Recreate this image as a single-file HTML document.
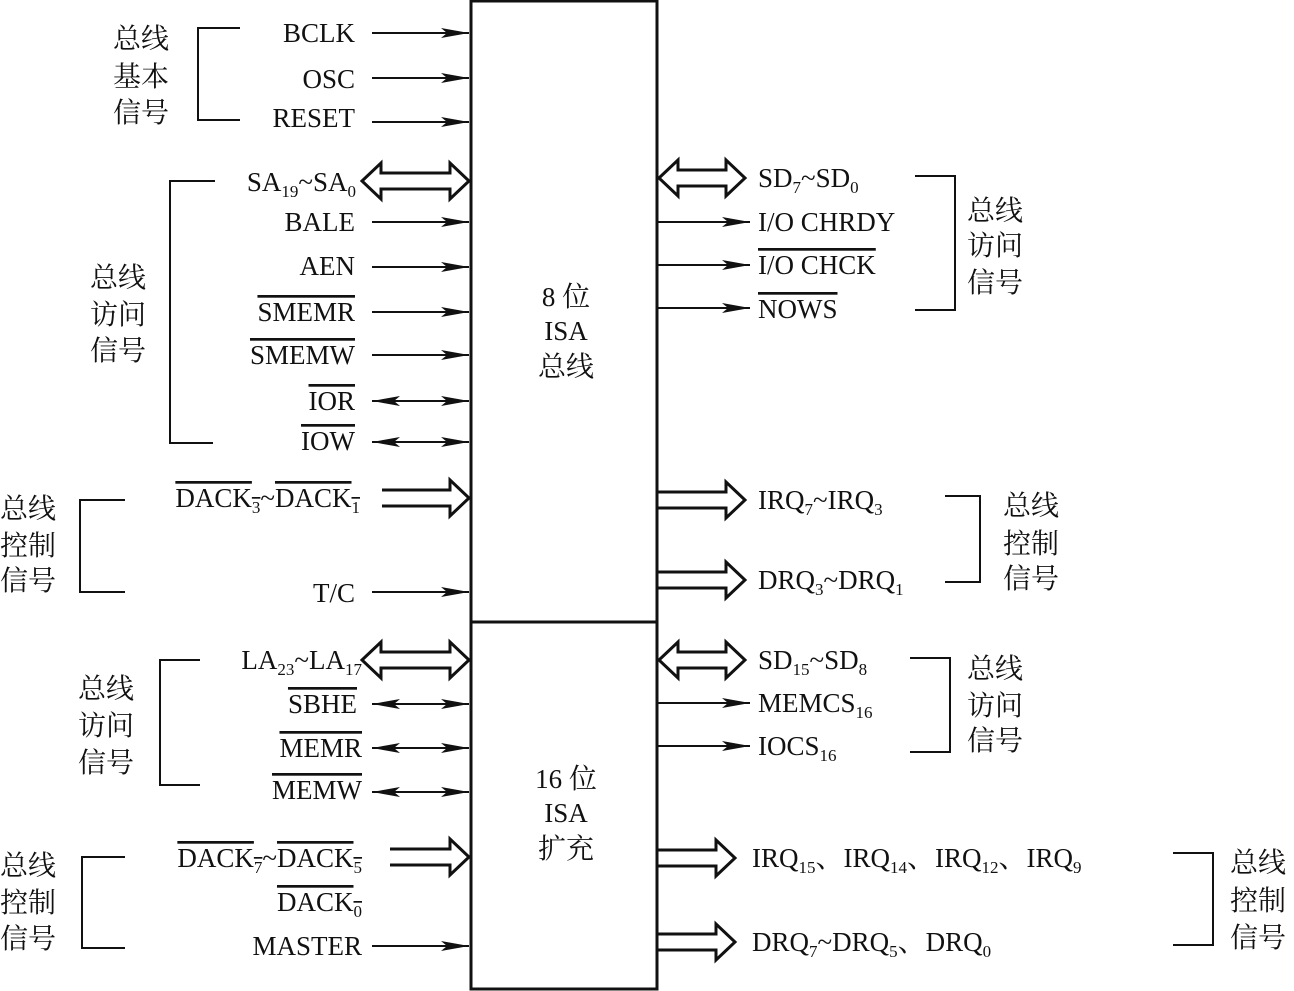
<!DOCTYPE html>
<html><head><meta charset="utf-8"><style>
html,body{margin:0;padding:0;background:#fff;}
svg{display:block;}
text{font-family:"Liberation Serif","Noto Serif CJK SC",serif;font-size:27px;fill:#111;}
.c{font-family:"Liberation Serif","Noto Serif CJK SC","Noto Sans CJK SC",serif;font-size:28px;}
.s{font-size:17px;}
.o{text-decoration:overline;}
</style></head><body>
<svg width="1294" height="991" viewBox="0 0 1294 991" xmlns="http://www.w3.org/2000/svg">
<defs>
<marker id="ah" markerWidth="28" markerHeight="10" refX="28" refY="5" orient="auto" markerUnits="userSpaceOnUse"><path d="M0,0 L28,5 L0,10 L6,5 Z" fill="#111"/></marker>
<marker id="ahs" markerWidth="28" markerHeight="10" refX="0" refY="5" orient="auto" markerUnits="userSpaceOnUse"><path d="M28,0 L0,5 L28,10 L22,5 Z" fill="#111"/></marker>
</defs>
<g fill="none" stroke="#111">
<rect x="471" y="1" width="186" height="988" stroke-width="3"/>
<line x1="471" y1="622" x2="657" y2="622" stroke-width="3"/>
</g>
<g stroke="#111" stroke-width="2" fill="none">
<!-- thin arrows left -->
<line x1="372" y1="33" x2="469" y2="33" marker-end="url(#ah)"/>
<line x1="372" y1="78" x2="469" y2="78" marker-end="url(#ah)"/>
<line x1="372" y1="122" x2="469" y2="122" marker-end="url(#ah)"/>
<line x1="372" y1="222" x2="469" y2="222" marker-end="url(#ah)"/>
<line x1="372" y1="267" x2="469" y2="267" marker-end="url(#ah)"/>
<line x1="372" y1="312" x2="469" y2="312" marker-end="url(#ah)"/>
<line x1="372" y1="355" x2="469" y2="355" marker-end="url(#ah)"/>
<line x1="372" y1="401" x2="469" y2="401" marker-end="url(#ah)" marker-start="url(#ahs)"/>
<line x1="372" y1="442" x2="469" y2="442" marker-end="url(#ah)" marker-start="url(#ahs)"/>
<line x1="372" y1="592" x2="469" y2="592" marker-end="url(#ah)"/>
<line x1="372" y1="704" x2="469" y2="704" marker-end="url(#ah)" marker-start="url(#ahs)"/>
<line x1="372" y1="748" x2="469" y2="748" marker-end="url(#ah)" marker-start="url(#ahs)"/>
<line x1="372" y1="792" x2="469" y2="792" marker-end="url(#ah)" marker-start="url(#ahs)"/>
<line x1="372" y1="946" x2="469" y2="946" marker-end="url(#ah)"/>
<!-- thin arrows right -->
<line x1="658" y1="222" x2="750" y2="222" marker-end="url(#ah)"/>
<line x1="658" y1="265" x2="750" y2="265" marker-end="url(#ah)"/>
<line x1="658" y1="308" x2="750" y2="308" marker-end="url(#ah)"/>
<line x1="658" y1="703" x2="750" y2="703" marker-end="url(#ah)"/>
<line x1="658" y1="746" x2="750" y2="746" marker-end="url(#ah)"/>
</g>
<g stroke="#111" stroke-width="3" fill="none" stroke-linejoin="miter">
<!-- double fat arrows -->
<path d="M362,181 L381,163 L381,173 L450,173 L450,163 L469,181 L450,199 L450,189 L381,189 L381,199 Z"/>
<path d="M362,660 L381,642 L381,652 L450,652 L450,642 L469,660 L450,678 L450,668 L381,668 L381,678 Z"/>
<path d="M659,178 L678,160 L678,170 L726,170 L726,160 L745,178 L726,196 L726,186 L678,186 L678,196 Z"/>
<path d="M659,660 L678,642 L678,652 L726,652 L726,642 L745,660 L726,678 L726,668 L678,668 L678,678 Z"/>
<!-- single fat arrows -->
<path d="M382,490 L450,490 L450,480 L469,498 L450,516 L450,506 L382,506"/>
<path d="M390,849 L450,849 L450,839 L469,857 L450,875 L450,865 L390,865"/>
<path d="M658,492 L726,492 L726,482 L745,500 L726,518 L726,508 L658,508"/>
<path d="M658,572 L726,572 L726,562 L745,580 L726,598 L726,588 L658,588"/>
<path d="M658,850 L716,850 L716,840 L735,858 L716,876 L716,866 L658,866"/>
<path d="M658,934 L716,934 L716,924 L735,942 L716,960 L716,950 L658,950"/>
</g>
<g stroke="#111" stroke-width="2" fill="none">
<!-- brackets -->
<path d="M240,28 L198,28 L198,120 L240,120"/>
<path d="M215,181 L170,181 L170,443 L213,443"/>
<path d="M125,500 L80,500 L80,592 L125,592"/>
<path d="M200,660 L160,660 L160,785 L200,785"/>
<path d="M125,857 L82,857 L82,948 L125,948"/>
<path d="M915,176 L955,176 L955,310 L915,310"/>
<path d="M945,496 L980,496 L980,582 L945,582"/>
<path d="M910,658 L950,658 L950,752 L910,752"/>
<path d="M1173,853 L1213,853 L1213,945 L1173,945"/>
</g>
<!-- Chinese labels -->
<g class="c">
<text class="c" x="113" y="48">总线</text><text class="c" x="113" y="86">基本</text><text class="c" x="113" y="122">信号</text>
<text class="c" x="90" y="287">总线</text><text class="c" x="90" y="324">访问</text><text class="c" x="90" y="360">信号</text>
<text class="c" x="0" y="518">总线</text><text class="c" x="0" y="555">控制</text><text class="c" x="0" y="590">信号</text>
<text class="c" x="78" y="698">总线</text><text class="c" x="78" y="735">访问</text><text class="c" x="78" y="772">信号</text>
<text class="c" x="0" y="875">总线</text><text class="c" x="0" y="912">控制</text><text class="c" x="0" y="948">信号</text>
<text class="c" x="967" y="220">总线</text><text class="c" x="967" y="255">访问</text><text class="c" x="967" y="292">信号</text>
<text class="c" x="1003" y="515">总线</text><text class="c" x="1003" y="553">控制</text><text class="c" x="1003" y="588">信号</text>
<text class="c" x="967" y="678">总线</text><text class="c" x="967" y="715">访问</text><text class="c" x="967" y="750">信号</text>
<text class="c" x="1230" y="872">总线</text><text class="c" x="1230" y="910">控制</text><text class="c" x="1230" y="947">信号</text>
</g>
<!-- center -->
<g text-anchor="middle">
<text x="566" y="306">8 <tspan class="c">位</tspan></text>
<text x="566" y="340">ISA</text>
<text class="c" x="566" y="376">总线</text>
<text x="566" y="788">16 <tspan class="c">位</tspan></text>
<text x="566" y="822">ISA</text>
<text class="c" x="566" y="858">扩充</text>
</g>
<!-- left labels -->
<g text-anchor="end">
<text x="355" y="42">BCLK</text>
<text x="355" y="88">OSC</text>
<text x="355" y="127">RESET</text>
<text x="356" y="191">SA<tspan class="s" dy="6">19</tspan><tspan dy="-6">~SA</tspan><tspan class="s" dy="6">0</tspan></text>
<text x="355" y="231">BALE</text>
<text x="355" y="275">AEN</text>
<text x="355" y="321"><tspan class="o">SMEMR</tspan></text>
<text x="355" y="364"><tspan class="o">SMEMW</tspan></text>
<text x="355" y="410"><tspan class="o">IOR</tspan></text>
<text x="355" y="450"><tspan class="o">IOW</tspan></text>
<text x="360" y="507"><tspan class="o">DACK<tspan class="s" dy="6">3</tspan></tspan><tspan dy="-6">~</tspan><tspan class="o">DACK<tspan class="s" dy="6">1</tspan></tspan></text>
<text x="355" y="602">T/C</text>
<text x="362" y="669">LA<tspan class="s" dy="6">23</tspan><tspan dy="-6">~LA</tspan><tspan class="s" dy="6">17</tspan></text>
<text x="357" y="713"><tspan class="o">SBHE</tspan></text>
<text x="362" y="757"><tspan class="o">MEMR</tspan></text>
<text x="362" y="799"><tspan class="o">MEMW</tspan></text>
<text x="362" y="867"><tspan class="o">DACK<tspan class="s" dy="6">7</tspan></tspan><tspan dy="-6">~</tspan><tspan class="o">DACK<tspan class="s" dy="6">5</tspan></tspan></text>
<text x="362" y="911"><tspan class="o">DACK<tspan class="s" dy="6">0</tspan></tspan></text>
<text x="362" y="955">MASTER</text>
</g>
<!-- right labels -->
<text x="758" y="187">SD<tspan class="s" dy="6">7</tspan><tspan dy="-6">~SD</tspan><tspan class="s" dy="6">0</tspan></text>
<text x="758" y="231">I/O CHRDY</text>
<text x="758" y="274"><tspan class="o">I/O CHCK</tspan></text>
<text x="758" y="318"><tspan class="o">NOWS</tspan></text>
<text x="758" y="509">IRQ<tspan class="s" dy="6">7</tspan><tspan dy="-6">~IRQ</tspan><tspan class="s" dy="6">3</tspan></text>
<text x="758" y="589">DRQ<tspan class="s" dy="6">3</tspan><tspan dy="-6">~DRQ</tspan><tspan class="s" dy="6">1</tspan></text>
<text x="758" y="669">SD<tspan class="s" dy="6">15</tspan><tspan dy="-6">~SD</tspan><tspan class="s" dy="6">8</tspan></text>
<text x="758" y="712">MEMCS<tspan class="s" dy="6">16</tspan></text>
<text x="758" y="755">IOCS<tspan class="s" dy="6">16</tspan></text>
<text x="752" y="867">IRQ<tspan class="s" dy="6">15</tspan><tspan class="c" dy="-6">、</tspan>IRQ<tspan class="s" dy="6">14</tspan><tspan class="c" dy="-6">、</tspan>IRQ<tspan class="s" dy="6">12</tspan><tspan class="c" dy="-6">、</tspan>IRQ<tspan class="s" dy="6">9</tspan></text>
<text x="752" y="951">DRQ<tspan class="s" dy="6">7</tspan><tspan dy="-6">~DRQ</tspan><tspan class="s" dy="6">5</tspan><tspan class="c" dy="-6">、</tspan>DRQ<tspan class="s" dy="6">0</tspan></text>
</svg>
</body></html>
